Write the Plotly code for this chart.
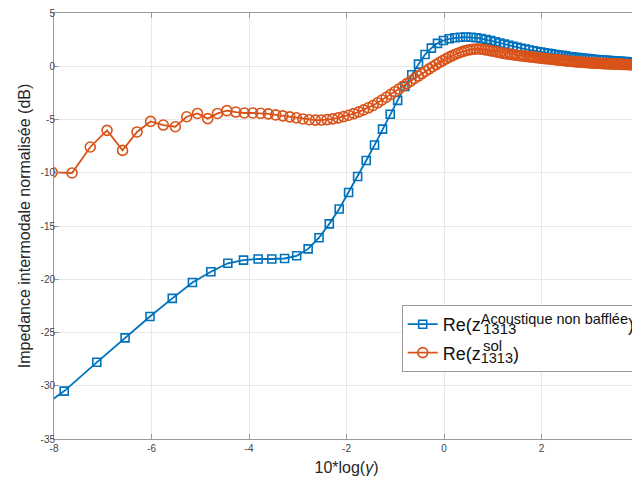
import plotly.graph_objects as go

# ---- data ----
blue_x = [-8.582, -7.791, -7.122, -6.542, -6.031, -5.574, -5.160, -4.782, -4.434, -4.113,
          -3.813, -3.533, -3.270, -3.022, -2.787, -2.564, -2.353, -2.150, -1.957, -1.772,
          -1.595, -1.425, -1.261, -1.103, -0.951, -0.803, -0.661, -0.523, -0.389, -0.260,
          -0.134, -0.012, 0.107, 0.223, 0.336, 0.446, 0.553, 0.658, 0.760, 0.860,
          0.957, 1.053, 1.146, 1.238, 1.327, 1.415, 1.501, 1.585, 1.668, 1.749,
          1.829, 1.907, 1.984, 2.059, 2.134, 2.207, 2.278, 2.349, 2.418, 2.487,
          2.554, 2.620, 2.686, 2.750, 2.813, 2.876, 2.938, 2.998, 3.058, 3.117,
          3.176, 3.233, 3.290, 3.346, 3.401, 3.456, 3.510, 3.563, 3.616, 3.668,
          3.719, 3.770, 3.820, 3.870, 3.919, 3.967]
blue_y = [-33.1, -30.5, -27.8, -25.5, -23.5, -21.8, -20.3, -19.3, -18.5, -18.2,
          -18.1, -18.1, -18.05, -17.8, -17.15, -16.1, -14.8, -13.4, -11.85, -10.35,
          -8.85, -7.4, -5.9, -4.5, -3.2, -1.9, -0.8, 0.2, 1.1, 1.7,
          2.15, 2.42, 2.58, 2.67, 2.72, 2.74, 2.72, 2.67, 2.6, 2.51,
          2.41, 2.3, 2.19, 2.08, 1.97, 1.87, 1.78, 1.69, 1.61, 1.53,
          1.46, 1.39, 1.33, 1.27, 1.21, 1.16, 1.11, 1.06, 1.02, 0.97,
          0.92, 0.88, 0.84, 0.81, 0.78, 0.75, 0.72, 0.69, 0.66, 0.64,
          0.61, 0.59, 0.57, 0.55, 0.53, 0.51, 0.5, 0.48, 0.47, 0.45,
          0.44, 0.42, 0.41, 0.4, 0.39, 0.38]

orange_x = [-8.038, -7.630, -7.256, -6.912, -6.594, -6.297, -6.019, -5.758, -5.511, -5.278,
            -5.057, -4.847, -4.646, -4.454, -4.270, -4.094, -3.924, -3.761, -3.604, -3.452,
            -3.306, -3.164, -3.027, -2.894, -2.765, -2.639, -2.517, -2.399, -2.283, -2.171,
            -2.061, -1.955, -1.850, -1.748, -1.649, -1.552, -1.456, -1.363, -1.272, -1.183,
            -1.095, -1.009, -0.925, -0.843, -0.762, -0.682, -0.604, -0.528, -0.452, -0.378,
            -0.305, -0.234, -0.163, -0.094, -0.026, 0.041, 0.108, 0.173, 0.237, 0.300,
            0.363, 0.424, 0.485, 0.545, 0.604, 0.662, 0.719, 0.776, 0.832, 0.887,
            0.942, 0.995, 1.049, 1.101, 1.153, 1.204, 1.255, 1.305, 1.355, 1.404,
            1.452, 1.500, 1.548, 1.594, 1.641, 1.687, 1.732, 1.777, 1.822, 1.866,
            1.909, 1.952, 1.995, 2.037, 2.079, 2.121, 2.162, 2.203, 2.243, 2.283,
            2.323, 2.362, 2.401, 2.439, 2.478, 2.515, 2.553, 2.590, 2.627, 2.664,
            2.700, 2.736, 2.772, 2.807, 2.842, 2.877, 2.912, 2.946, 2.980, 3.014,
            3.047, 3.081, 3.114, 3.146, 3.179, 3.211, 3.243, 3.275, 3.306, 3.338,
            3.369, 3.400, 3.430, 3.461, 3.491, 3.521, 3.551, 3.581, 3.610, 3.639,
            3.668, 3.697, 3.726, 3.754, 3.782, 3.810, 3.838, 3.866, 3.894, 3.921,
            3.948, 3.975]
orange_y = [-9.96, -10.02, -7.58, -6.02, -7.9, -6.17, -5.18, -5.52, -5.68, -4.74,
            -4.43, -4.92, -4.43, -4.17, -4.3, -4.39, -4.39, -4.42, -4.47, -4.57,
            -4.66, -4.75, -4.84, -4.95, -5.02, -5.06, -5.05, -5.01, -4.94, -4.85,
            -4.73, -4.6, -4.45, -4.28, -4.1, -3.9, -3.68, -3.43, -3.17, -2.91,
            -2.65, -2.39, -2.13, -1.88, -1.63, -1.39, -1.15, -0.92, -0.69, -0.47,
            -0.25, -0.04, 0.16, 0.35, 0.53, 0.7, 0.86, 1.0, 1.13, 1.25,
            1.35, 1.44, 1.51, 1.56, 1.6, 1.62, 1.62, 1.6, 1.56, 1.52,
            1.47, 1.43, 1.38, 1.33, 1.28, 1.23, 1.19, 1.15, 1.12, 1.09,
            1.06, 1.03, 1.0, 0.98, 0.95, 0.93, 0.9, 0.88, 0.85, 0.83,
            0.81, 0.78, 0.76, 0.74, 0.72, 0.7, 0.68, 0.66, 0.64, 0.62,
            0.6, 0.58, 0.56, 0.54, 0.52, 0.5, 0.48, 0.47, 0.45, 0.44,
            0.42, 0.41, 0.4, 0.38, 0.37, 0.36, 0.35, 0.34, 0.33, 0.32,
            0.31, 0.3, 0.29, 0.28, 0.28, 0.27, 0.26, 0.25, 0.25, 0.24,
            0.23, 0.23, 0.22, 0.21, 0.21, 0.2, 0.2, 0.19, 0.19, 0.18,
            0.18, 0.17, 0.17, 0.16, 0.16, 0.15, 0.15, 0.14, 0.14, 0.13,
            0.13, 0.12]

x_ticks = [-8, -6, -4, -2, 0, 2, 4]
x_tick_labels = ["-8", "-6", "-4", "-2", "0", "2", "4"]
y_ticks = [-35, -30, -25, -20, -15, -10, -5, 0, 5]
y_tick_labels = ["-35", "-30", "-25", "-20", "-15", "-10", "-5", "0", "5"]

SMALL = "<span style='font-size:14.5px'>%s</span>"
name_blue = "Re(z<sup>" + SMALL % "Acoustique non bafflée" + "</sup>)"
name_orange = "Re(z<sub>" + SMALL % "1313" + "</sub>)"
overlay_blue = "1313"   # subscript drawn under the superscript of entry 1
overlay_orange = "sol"  # superscript drawn over the subscript of entry 2

BLUE = "#0072BD"
ORANGE = "#D95319"
FONT = "Liberation Sans, Arial, Helvetica, sans-serif"

assert len(blue_x) == len(blue_y)
assert len(orange_x) == len(orange_y)

# page has an 8px body margin: the figure is drawn from (8, 8)
OFF = 8
W, H = 640 - OFF, 483 - OFF
PL, PR, PT, PB = 54, 639, 13, 439          # plot area in page pixels
PW, PH = PR - PL, PB - PT


def px(xp):
    return (xp - PL) / PW


def py(yp):
    return (PB - yp) / PH


fig = go.Figure()
fig.add_trace(go.Scatter(
    x=blue_x, y=blue_y, mode="lines+markers", name=name_blue, legendgroup="a",
    line=dict(color=BLUE, width=1.8),
    marker=dict(symbol="square-open", size=8, color=BLUE, line=dict(width=1.6, color=BLUE)),
))
fig.add_trace(go.Scatter(
    x=orange_x, y=orange_y, mode="lines+markers", name=name_orange, legendgroup="b",
    line=dict(color=ORANGE, width=1.8),
    marker=dict(symbol="circle-open", size=10, color=ORANGE, line=dict(width=1.6, color=ORANGE)),
))

axis_common = dict(
    showgrid=True, gridcolor="#e8e8e8", gridwidth=1,
    showline=True, linecolor="#9a9a9a", linewidth=1, mirror="allticks",
    ticks="inside", ticklen=5, tickcolor="#9a9a9a", tickwidth=1,
    zeroline=False, automargin=False, ticklabeloverflow="allow",
    tickfont=dict(family=FONT, size=10, color="#444444"),
)

fig.update_xaxes(range=[-8, 4], tickvals=x_ticks, ticktext=x_tick_labels,
                 title=dict(text="10*log(<i>γ</i>)", font=dict(family=FONT, size=16, color="#262626"), standoff=8),
                 **axis_common)
fig.update_yaxes(range=[-35, 5], tickvals=y_ticks, ticktext=y_tick_labels, ticklabelstandoff=-4,
                 title=dict(text="Impedance intermodale normalisée (dB)", font=dict(family=FONT, size=16, color="#262626"), standoff=5),
                 **axis_common)

# overlapping sub/superscripts of the legend labels (MATLAB-style stacking)
fig.add_annotation(text=overlay_blue, xref="paper", yref="paper",
                   x=px(481), y=py(328), xanchor="left", yanchor="middle",
                   showarrow=False, font=dict(family=FONT, size=15, color="#111111"))
fig.add_annotation(text=overlay_orange, xref="paper", yref="paper",
                   x=px(481), y=py(345), xanchor="left", yanchor="middle",
                   showarrow=False, font=dict(family=FONT, size=15, color="#111111"))

fig.update_layout(
    width=W, height=H,
    margin=dict(l=PL - OFF, r=OFF + W - PR, t=PT - OFF, b=OFF + H - PB, autoexpand=False),
    paper_bgcolor="white", plot_bgcolor="white",
    font=dict(family=FONT, color="#262626"),
    showlegend=True,
    legend=dict(
        x=px(401.7), y=py(305), xanchor="left", yanchor="top",
        bgcolor="white", bordercolor="#9a9a9a", borderwidth=1,
        font=dict(family=FONT, size=18, color="#111111"),
        itemwidth=30, tracegroupgap=2,
    ),
)

fig.write_html("out.html")
